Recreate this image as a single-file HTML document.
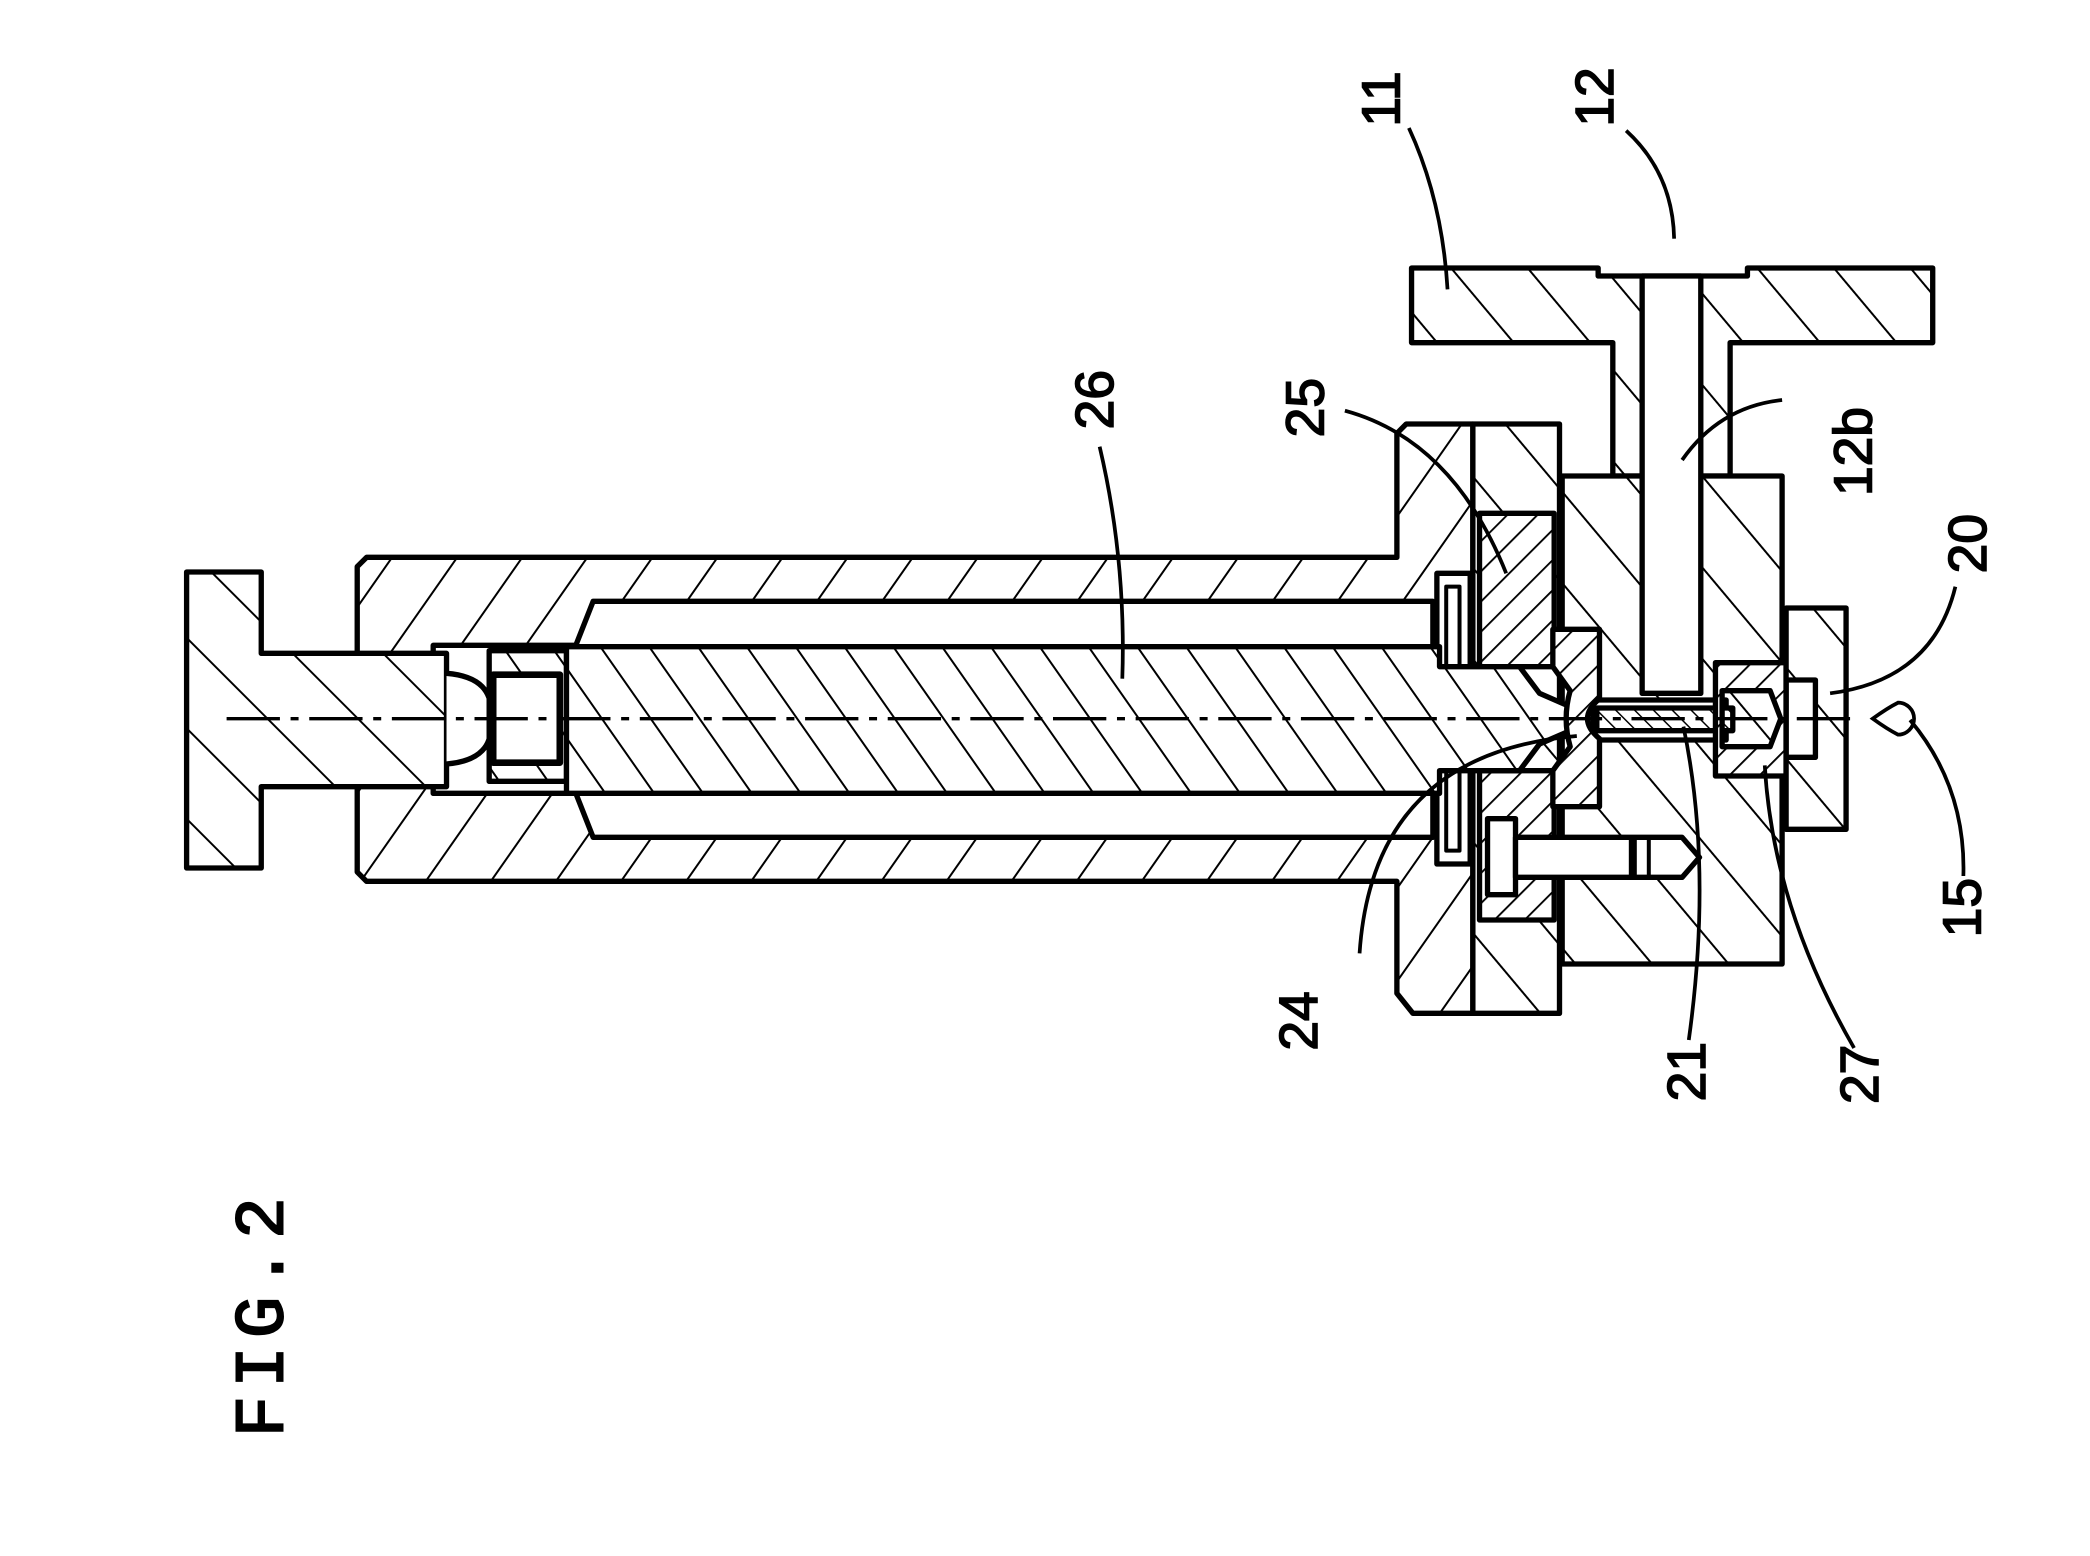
<!DOCTYPE html>
<html><head><meta charset="utf-8"><style>
html,body{margin:0;padding:0;background:#fff;}
svg{display:block;}
text{font-family:"Liberation Sans",sans-serif;fill:#000;}
</style></head><body>
<svg width="2090" height="1556" viewBox="0 0 1568 1167" preserveAspectRatio="none" xmlns="http://www.w3.org/2000/svg">
<defs>
<pattern id="hs" patternUnits="userSpaceOnUse" width="40" height="40" patternTransform="rotate(35)"><rect width="40" height="40" fill="#fff"/><line x1="0" y1="0" x2="0" y2="40" stroke="#000" stroke-width="3"/></pattern>
<pattern id="hb" patternUnits="userSpaceOnUse" width="30" height="30" patternTransform="rotate(-35)"><rect width="30" height="30" fill="#fff"/><line x1="0" y1="0" x2="0" y2="30" stroke="#000" stroke-width="3"/></pattern>
<pattern id="hk" patternUnits="userSpaceOnUse" width="48" height="48" patternTransform="rotate(-45)"><rect width="48" height="48" fill="#fff"/><line x1="0" y1="0" x2="0" y2="48" stroke="#000" stroke-width="3"/></pattern>
<pattern id="hf" patternUnits="userSpaceOnUse" width="44" height="44" patternTransform="rotate(-40)"><rect width="44" height="44" fill="#fff"/><line x1="0" y1="0" x2="0" y2="44" stroke="#000" stroke-width="3"/></pattern>
<pattern id="hd" patternUnits="userSpaceOnUse" width="16" height="16" patternTransform="rotate(45)"><rect width="16" height="16" fill="#fff"/><line x1="0" y1="0" x2="0" y2="16" stroke="#000" stroke-width="2.8"/></pattern>
<pattern id="hn" patternUnits="userSpaceOnUse" width="10" height="10" patternTransform="rotate(-45)"><rect width="10" height="10" fill="#fff"/><line x1="0" y1="0" x2="0" y2="10" stroke="#000" stroke-width="2.2"/></pattern>
</defs>
<g stroke="#000" stroke-width="4" stroke-linejoin="round">
<path d="M1059,201 L1199,201 L1199,207 L1311,207 L1311,201 L1450,201 L1450,257 L1298,257 L1298,357 L1210,357 L1210,257 L1059,257 Z" fill="url(#hf)"/>
<rect x="1172" y="357" width="165" height="366" fill="url(#hf)"/>
<rect x="1232" y="207" width="44" height="313" fill="#fff"/>
<rect x="1195" y="525" width="100" height="30" fill="#fff"/>
<path fill-rule="evenodd" fill="url(#hs)" d="M268,425 L275,418 L1048,418 L1048,325 L1055,318 L1105,318 L1105,760 L1060,760 L1048,745 L1048,661 L275,661 L268,654 Z M325,484 L432,484 L445,451 L1075,451 L1075,628 L445,628 L432,595 L325,595 Z"/>
<rect x="1105" y="318" width="65" height="442" fill="url(#hf)"/>
<rect x="1078" y="430" width="25" height="218" fill="#fff"/>
<rect x="1085" y="440" width="10" height="198" fill="#fff" stroke-width="3"/>
<rect x="1110" y="385" width="56" height="115" fill="url(#hd)"/>
<rect x="1110" y="578" width="56" height="112" fill="url(#hd)"/>
<rect x="1116" y="614" width="21" height="57" fill="#fff"/>
<path d="M1137,628 L1262,628 L1275,643 L1262,658 L1137,658 Z" fill="#fff"/>
<line x1="1225" y1="628" x2="1225" y2="658" stroke-width="6"/>
<line x1="1237" y1="628" x2="1237" y2="658" stroke-width="3"/>
<path d="M140,429 L196,429 L196,490 L335,490 L335,590 L196,590 L196,651 L140,651 Z" fill="url(#hk)"/>
<path d="M335,505 Q372,508 368,539 Q372,570 335,573" fill="#fff"/>
<rect x="367" y="488" width="58" height="98" fill="url(#hb)"/>
<rect x="370" y="506" width="50" height="66" fill="#fff" stroke-width="5"/>
<path d="M425,485 L1080,485 L1080,500 L1140,500 L1155,520 L1178,530 L1186,539 L1178,548 L1155,558 L1140,578 L1080,578 L1080,595 L425,595 Z" fill="url(#hb)"/>
<path d="M1165,472 L1200,472 L1200,524 Q1182,539 1200,554 L1200,605 L1165,605 L1165,578 L1178,560 Q1172,539 1178,518 L1165,500 Z" fill="url(#hd)"/>
<rect x="1198" y="531" width="102" height="17" fill="url(#hn)"/>
<path d="M1287,497 L1340,497 L1340,582 L1287,582 Z M1292,518 L1328,518 L1336,539 L1328,560 L1292,560 Z" fill="url(#hd)" fill-rule="evenodd"/>
<path d="M1340,456 L1385,456 L1385,622 L1340,622 Z M1340,510 L1362,510 L1362,568 L1340,568 Z" fill="url(#hf)" fill-rule="evenodd"/>
</g>
<line x1="170" y1="539" x2="1395" y2="539" stroke="#000" stroke-width="2.5" stroke-dasharray="40,8,6,8"/>
<path d="M1405,539 Q1416,531 1424,527 A12,12 0 1 1 1424,551 Q1416,547 1405,539 Z" fill="none" stroke="#000" stroke-width="2.8"/>
<g fill="none" stroke="#000" stroke-width="2.8">
<path d="M1057,96 Q1082,150 1086,217"/>
<path d="M1220,98 Q1255,130 1256,179"/>
<path d="M825,335 Q845,420 842,509"/>
<path d="M1009,308 Q1090,330 1130,430"/>
<path d="M1337,300 Q1290,305 1262,345"/>
<path d="M1467,440 Q1450,510 1373,520"/>
<path d="M1473,657 Q1475,590 1433,540"/>
<path d="M1020,715 Q1030,565 1183,552"/>
<path d="M1267,780 Q1285,650 1263,545"/>
<path d="M1391,786 Q1330,680 1324,574"/>
</g>
<g font-size="40" stroke="#000" stroke-width="1.2">
<text transform="translate(1050,95) rotate(-90)">11</text>
<text transform="translate(1210,95) rotate(-90)">12</text>
<text transform="translate(835,322) rotate(-90)">26</text>
<text transform="translate(993,328) rotate(-90)">25</text>
<text transform="translate(1404,372) rotate(-90)">12b</text>
<text transform="translate(1490,430) rotate(-90)">20</text>
<text transform="translate(1486,703) rotate(-90)">15</text>
<text transform="translate(988,788) rotate(-90)">24</text>
<text transform="translate(1279,826) rotate(-90)">21</text>
<text transform="translate(1409,828) rotate(-90)">27</text>
</g>
<text transform="translate(212,1078) rotate(-90)" font-size="52" stroke="#000" stroke-width="1.5" style="font-family:'Liberation Mono',monospace" letter-spacing="6">FIG.2</text>
</svg>
</body></html>
